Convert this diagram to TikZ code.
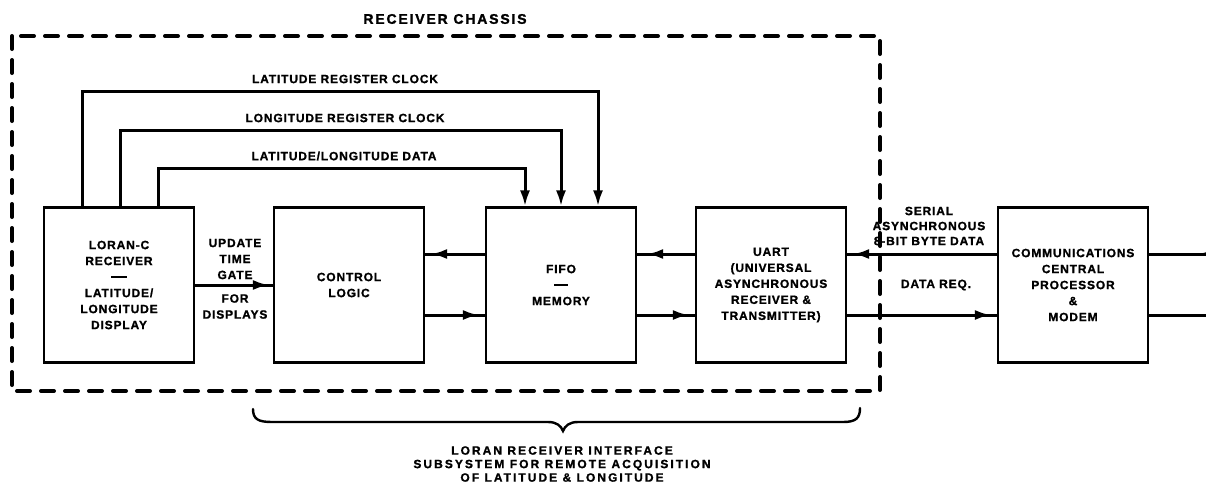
\documentclass[tikz,border=0pt]{standalone}
\usepackage{fontspec}
\setmainfont{Liberation Sans}
\newfontfamily\lblfam{Liberation Sans}[LetterSpace=7, BoldFeatures={FakeBold=1.2}]
\newfontfamily\capfam{Liberation Sans}[LetterSpace=17, BoldFeatures={FakeBold=1.2}]
\newfontfamily\ttlfam{Liberation Sans}[LetterSpace=13, BoldFeatures={FakeBold=1.5}]
\usetikzlibrary{arrows.meta}
\begin{document}
\begin{tikzpicture}[x=1pt,y=-1pt,
  lbl/.style={font=\lblfam\bfseries\fontsize{12}{16}\selectfont, align=center, inner sep=0pt},
  blk/.style={draw, line width=2.2pt, minimum width=150pt, minimum height=155pt, lbl},
  conn/.style={line width=3pt},
  tipend/.style={-{Latex[length=16pt,width=10pt]}},
  harrow/.style={conn, tipend, shorten >=6pt},
  chassis/.style={line width=4pt, line cap=round, dash pattern=on 13pt off 11pt},
  captxt/.style={font=\capfam\bfseries\fontsize{12}{13.5}\selectfont, align=center, inner sep=0pt},
  ttltxt/.style={font=\ttlfam\bfseries\fontsize{14}{16}\selectfont, inner sep=0pt}
]
\useasboundingbox (0,0) rectangle (1206,491);

% chassis
\draw[chassis] (12,36) rectangle (880,391);
\node[ttltxt] (title) at (445,19) {RECEIVER CHASSIS};

% blocks
\node[blk] (loran) at (119,285) {LORAN-C\\RECEIVER\\\rule[3pt]{16pt}{2pt}\\LATITUDE/\\LONGITUDE\\DISPLAY};
\node[blk] (control) at (349,285) {CONTROL\\LOGIC};
\node[blk] (fifo) at (561,285) {FIFO\\\rule[3pt]{14pt}{2pt}\\MEMORY};
\node[blk] (uart) at (771,285) {UART\\(UNIVERSAL\\ASYNCHRONOUS\\RECEIVER \&\\TRANSMITTER)};
\node[blk] (comms) at (1073,285) {COMMUNICATIONS\\CENTRAL\\PROCESSOR\\\&\\MODEM};

% top buses
\coordinate (y1) at (0,91);
\coordinate (y2) at (0,130);
\coordinate (y3) at (0,168);
\draw[conn, tipend] ([xshift=-37pt]loran.north) -- ([xshift=-37pt]loran.north |- y1) -| ([xshift=37pt]fifo.north);
\draw[conn, tipend] ([xshift=1pt]loran.north) -- ([xshift=1pt]loran.north |- y2) -| (fifo.north);
\draw[conn, tipend] ([xshift=39pt]loran.north) -- ([xshift=39pt]loran.north |- y3) -| ([xshift=-36pt]fifo.north);
\node[lbl] (l1) at (345,79) {LATITUDE REGISTER CLOCK};
\node[lbl] (l2) at (345,118) {LONGITUDE REGISTER CLOCK};
\node[lbl] (l3) at (344,156) {LATITUDE/LONGITUDE DATA};

% update time gate
\draw[conn] (loran.east) -- (control.west);
\draw[harrow, shorten >=4pt] (loran.east) -- (control.west);
\node[lbl] (upd) at (235,259) {UPDATE\\TIME\\GATE};
\node[lbl] (fordisp) at (235,306.5) {FOR\\DISPLAYS};

% control <-> fifo
\draw[conn] ([yshift=31pt]fifo.west) -- ([yshift=31pt]control.east);
\draw[harrow] ([yshift=31pt]fifo.west) -- ([yshift=31pt]control.east);
\draw[conn] ([yshift=-30pt]control.east) -- ([yshift=-30pt]fifo.west);
\draw[harrow] ([yshift=-30pt]control.east) -- ([yshift=-30pt]fifo.west);

% fifo <-> uart
\draw[conn] ([yshift=31pt]uart.west) -- ([yshift=31pt]fifo.east);
\draw[harrow, shorten >=10pt] ([yshift=31pt]uart.west) -- ([yshift=31pt]fifo.east);
\draw[conn] ([yshift=-30pt]fifo.east) -- ([yshift=-30pt]uart.west);
\draw[harrow] ([yshift=-30pt]fifo.east) -- ([yshift=-30pt]uart.west);

% uart <-> comms
\draw[conn] ([yshift=31pt]comms.west) -- ([yshift=31pt]uart.east);
\draw[harrow, shorten >=6pt] ([yshift=31pt]comms.west) -- ([yshift=31pt]uart.east);
\draw[conn] ([yshift=-30pt]uart.east) -- ([yshift=-30pt]comms.west);
\draw[harrow] ([yshift=-30pt]uart.east) -- ([yshift=-30pt]comms.west);
\node[lbl, font=\lblfam\bfseries\fontsize{12}{15}\selectfont] (serial) at (929,226) {SERIAL\\ASYNCHRONOUS\\8-BIT BYTE DATA};
\node[lbl] (datareq) at (936,285) {DATA REQ.};

% comms outputs to the edge
\coordinate (e1) at (1218,254);
\coordinate (e1tip) at (1198,254);
\coordinate (e2) at (1216,315);
\draw[conn] (comms.east |- e1) -- (e1);
\draw[conn, tipend] (e1) -- (e1tip);
\draw[conn] (comms.east |- e2) -- (e2);

% brace
\draw[line width=2.4pt, line cap=round]
  (253,409) .. controls (253,419) and (258,422) .. (272,422) -- (548,422)
  .. controls (557,422) and (561,426) .. (563,431)
  .. controls (565,426) and (569,422) .. (578,422) -- (843,422)
  .. controls (856,422) and (860,418) .. (860,408);
\node[captxt] (caption) at (562,464) {LORAN RECEIVER INTERFACE\\SUBSYSTEM FOR REMOTE ACQUISITION\\OF LATITUDE \& LONGITUDE};
\end{tikzpicture}
\end{document}
